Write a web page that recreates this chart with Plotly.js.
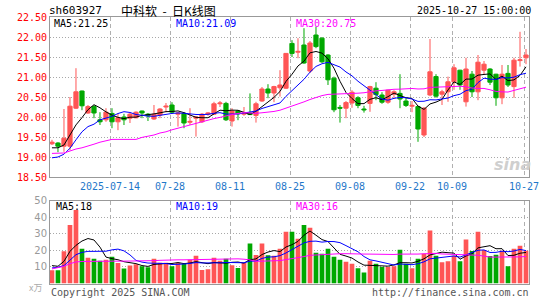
<!DOCTYPE html>
<html><head><meta charset="utf-8">
<script src="https://cdn.plot.ly/plotly-3.0.1.min.js"></script>
<style>html,body{margin:0;padding:0;background:#fff}#chart{width:545px;height:300px}</style>
</head><body><div id="chart"></div>
<script>
// ---- data ----
const dates = ['06-30','07-01','07-02','07-03','07-04','07-07','07-08','07-09','07-10','07-11',
'07-14','07-15','07-16','07-17','07-18','07-21','07-22','07-23','07-24','07-25',
'07-28','07-29','07-30','07-31','08-01','08-04','08-05','08-06','08-07','08-08',
'08-11','08-12','08-13','08-14','08-15','08-18','08-19','08-20','08-21','08-22',
'08-25','08-26','08-27','08-28','08-29','09-01','09-02','09-03','09-04','09-05',
'09-08','09-09','09-10','09-11','09-12','09-15','09-16','09-17','09-18','09-19',
'09-22','09-23','09-24','09-25','09-26','09-29','09-30',
'10-09','10-10','10-13','10-14','10-15','10-16','10-17','10-20','10-21','10-22','10-23','10-24','10-27'];
const openP = [19.33,19.35,19.27,19.27,20.22,20.65,20.10,20.26,19.93,19.93,
20.09,19.88,20.00,19.97,19.98,20.15,20.07,19.95,20.05,20.25,
20.30,20.07,20.09,19.87,19.97,19.88,20.07,20.07,20.33,20.34,
19.90,20.15,20.07,20.10,20.04,20.40,20.70,20.60,20.73,20.72,
21.84,21.62,21.80,21.15,22.05,21.97,21.55,20.97,20.24,20.22,
20.35,20.48,20.20,20.34,20.72,20.55,20.37,20.57,20.59,20.40,
20.27,20.26,19.55,20.55,21.01,20.57,20.63,20.88,21.17,20.38,
21.07,20.63,21.17,21.20,21.07,20.48,21.09,20.76,21.41,21.48];
const highP = [19.43,19.37,20.20,20.50,21.22,20.66,20.30,20.30,20.12,20.22,
20.22,20.09,20.08,20.12,20.14,20.16,20.10,20.30,20.22,20.35,
20.37,20.12,20.12,20.22,20.02,20.10,20.12,20.38,20.40,20.38,
20.22,20.17,20.25,20.59,20.38,20.75,20.82,20.78,21.17,21.60,
21.92,21.97,22.22,21.90,22.26,22.00,21.57,21.01,20.30,20.40,
20.67,20.52,20.28,20.78,20.87,20.62,20.68,20.67,21.07,20.48,
20.40,20.28,20.25,21.95,21.07,20.68,21.01,21.32,21.18,21.48,
21.15,21.55,21.40,21.22,21.08,21.30,21.30,21.48,22.13,21.70];
const lowP = [19.30,19.12,19.13,19.17,20.20,20.17,20.08,19.97,19.80,19.88,
19.72,19.67,19.80,19.85,19.97,19.97,19.90,19.93,19.97,20.12,
20.08,19.76,19.72,19.80,19.51,19.85,20.03,20.05,20.25,19.90,
19.76,19.92,20.03,20.05,19.86,20.38,20.47,20.37,20.51,20.70,
21.50,21.47,21.33,21.10,21.72,21.35,20.80,20.12,19.86,19.97,
20.23,20.22,20.11,20.13,20.42,20.33,20.33,20.47,20.22,20.25,
20.12,19.38,19.50,20.52,20.48,20.30,20.38,20.68,20.68,20.26,
20.50,20.42,21.05,20.80,20.28,20.32,20.75,20.48,21.26,21.32];
const closeP = [19.37,19.27,19.47,20.27,20.63,20.28,20.26,20.10,19.88,20.12,
19.88,19.98,19.93,20.07,20.12,20.10,20.03,20.07,20.20,20.27,
20.12,20.10,19.85,19.89,20.00,20.07,20.10,20.33,20.35,19.93,
20.15,20.08,20.10,20.06,20.33,20.70,20.60,20.76,20.80,21.59,
21.59,21.64,21.35,21.85,21.76,21.38,20.93,20.18,20.22,20.36,
20.62,20.29,20.18,20.76,20.56,20.37,20.67,20.63,20.45,20.29,
20.29,19.70,20.22,21.13,20.52,20.63,20.88,21.23,20.80,21.20,
20.63,21.37,21.32,20.87,20.48,21.07,20.80,21.42,21.43,21.55];
const volume = [8.0,8.0,19.4,35.4,44.4,21.0,15.6,15.0,13.8,14.4,
16.2,12.4,9.0,10.8,11.6,10.4,9.8,15.0,12.6,12.6,
10.4,12.6,11.8,14.4,16.8,8.2,8.6,15.6,13.8,15.0,
11.0,9.4,12.4,24.2,17.2,24.2,17.0,16.8,21.0,31.2,
31.2,27.0,35.4,33.6,18.6,18.0,21.0,16.2,14.4,13.2,
12.0,9.2,6.6,13.8,12.0,10.0,10.0,10.4,20.4,12.0,
9.2,15.0,18.0,32.0,16.8,12.8,13.4,16.8,13.4,26.6,
19.6,31.2,20.2,16.6,17.4,19.8,10.4,21.0,22.8,19.8];
// moving-average values visible before enough history exists in this window
const ma5Head = [19.23,19.23,19.30,19.55];
const ma10Head = [18.98,19.00,19.07,19.22,19.43,19.63,19.76,19.82,19.93];
const ma30Head = [19.09,19.09,19.10,19.15,19.20,19.23,19.27,19.32,19.37,19.41,19.44,19.44,19.44,19.44,19.44,
19.49,19.52,19.55,19.60,19.63,19.68,19.72,19.76,19.80,19.84,19.88,19.93,19.96,19.99];
const volMa5Head = [10.8,10.4,13.4,19.4];
const volMa10Head = [9.4,9.8,10.8,14.4,17.4,18.8,19.4,19.4,19.4];
const volMa30Head = [8.8,9.4,10.4,12.0,13.0,13.3,13.4,13.4,13.4,13.4,13.4,13.5,13.5,13.5,13.5,
13.6,13.6,13.8,14.0,14.2,14.2,14.3,14.3,14.4,14.4,14.5,14.5,14.6,14.6];
const tickDates = ['07-14','07-28','08-11','08-25','09-08','09-22','10-09','10-27'];
const tickLabels = ['2025-07-14','07-28','08-11','08-25','09-08','09-22','10-09','10-27'];
const priceTicks = [18.5,19.0,19.5,20.0,20.5,21.0,21.5,22.0,22.5];
const volTicks = [10,20,30,40,50];
const stockCode = 'sh603927';
const chartTitle = '中科软\u00a0\u00a0-\u00a0\u00a0日K线图';
const stamp = '2025-10-27 15:00:00';

// ---- build ----
function movingAvg(vals, n, head){
  return vals.map((v,i)=> i < n-1 ? head[i] : vals.slice(i-n+1,i+1).reduce((a,b)=>a+b,0)/n);
}
const xs = dates.map((d,i)=>i);
const ma5 = movingAvg(closeP,5,ma5Head), ma10 = movingAvg(closeP,10,ma10Head), ma30 = movingAvg(closeP,30,ma30Head);
const vma5 = movingAvg(volume,5,volMa5Head), vma10 = movingAvg(volume,10,volMa10Head), vma30 = movingAvg(volume,30,volMa30Head);
const RED='#ff5555', GREEN='#00a800';
const volColors = closeP.map((c,i)=> c>=openP[i] ? RED : GREEN);
const tickVals = tickDates.map(d=>dates.indexOf(d)-0.33);

const W=545,H=300;
const fx=p=>p/W, fy=p=>1-p/H;
const MONO='DejaVu Sans Mono';

function lineTrace(y,color,xa,ya){return {type:'scatter',mode:'lines',x:xs,y:y,xaxis:xa,yaxis:ya,
  line:{color:color,width:1},hoverinfo:'skip'};}

const traces = [
  {type:'candlestick',x:xs,open:openP,high:highP,low:lowP,close:closeP,xaxis:'x',yaxis:'y',
   increasing:{line:{color:RED,width:1},fillcolor:RED},
   decreasing:{line:{color:GREEN,width:1},fillcolor:GREEN},
   whiskerwidth:0,hoverinfo:'skip'},
  lineTrace(ma5,'#000000','x','y'),
  lineTrace(ma10,'#0000ff','x','y'),
  lineTrace(ma30,'#ff00ff','x','y'),
  {type:'bar',x:xs,y:volume,xaxis:'x2',yaxis:'y2',marker:{color:volColors,line:{width:0}},hoverinfo:'skip'},
  lineTrace(vma5,'#000000','x2','y2'),
  lineTrace(vma10,'#0000ff','x2','y2'),
  lineTrace(vma30,'#ff00ff','x2','y2')
];

function ann(text,px,py,anchor,font){
  return {text:text,x:fx(px),y:fy(py),xref:'paper',yref:'paper',xanchor:anchor,yanchor:'middle',
    showarrow:false,font:font,bgcolor:'rgba(0,0,0,0)',borderpad:0};
}
const last=closeP.length-1;
const annotations=[
  ann(stockCode,48,11,'left',{family:MONO,size:11,color:'#000'}),
  ann(chartTitle,120,11,'left',{family:'Noto Sans CJK SC',size:12,color:'#000'}),
  ann(stamp,532,11,'right',{family:MONO,size:10,color:'#000'}),
  ann('MA5:'+ma5[last].toFixed(2),53,23,'left',{family:MONO,size:10,color:'#000'}),
  ann('MA10:'+ma10[last].toFixed(2),175,23,'left',{family:MONO,size:10,color:'#0000ff'}),
  ann('MA30:'+ma30[last].toFixed(2),295,23,'left',{family:MONO,size:10,color:'#ff00ff'}),
  ann('MA5:'+Math.floor(vma5[last]),55,206,'left',{family:MONO,size:10,color:'#000'}),
  ann('MA10:'+Math.floor(vma10[last]),175,206,'left',{family:MONO,size:10,color:'#0000ff'}),
  ann('MA30:'+Math.floor(vma30[last]),295,206,'left',{family:MONO,size:10,color:'#ff00ff'}),
  ann('x万',28,287,'left',{family:'Noto Sans CJK SC',size:9,color:'#aaa'}),
  ann('Copyright 2025 SINA.COM',50,292,'left',{family:MONO,size:10,color:'#555'}),
  ann('http://finance.sina.com.cn',530,292,'right',{family:MONO,size:10,color:'#555'}),
  ann('<b><i>sina</i></b>',512,164,'center',{family:'DejaVu Sans',size:16,color:'#cfcfcf'})
];

const gridX = {showgrid:true,gridcolor:'#b0b0b0',griddash:'4px,3px',gridwidth:1};
const gridY = {showgrid:true,gridcolor:'#a8a8a8',griddash:'1px,2px',gridwidth:1};
const frame = {showline:true,mirror:true,linecolor:'#999',linewidth:1,zeroline:false,ticks:'',fixedrange:true};

const layout={
  width:W,height:H,margin:{l:0,r:0,t:0,b:0},paper_bgcolor:'#fff',plot_bgcolor:'#fff',
  showlegend:false,boxgap:0.3,boxgroupgap:0,bargap:0.22,hovermode:false,
  xaxis:Object.assign({domain:[fx(50),fx(529)],range:[-0.33,79.5],anchor:'y',tickmode:'array',
    tickvals:tickVals,ticktext:tickLabels,tickfont:{family:MONO,size:10,color:'#1f77c9'},
    rangeslider:{visible:false}},gridX,frame),
  yaxis:Object.assign({domain:[fy(177),fy(17)],range:[18.5,22.5],anchor:'x',tickmode:'array',
    tickvals:priceTicks,ticktext:priceTicks.map(v=>v.toFixed(2)),
    tickfont:{family:MONO,size:10,color:'#ff0000'}},gridY,frame),
  xaxis2:Object.assign({domain:[fx(50),fx(529)],range:[-0.33,79.5],anchor:'y2',tickmode:'array',
    tickvals:tickVals,showticklabels:false},gridX,frame),
  yaxis2:Object.assign({domain:[fy(283.5),fy(200.7)],range:[0,50],anchor:'x2',tickmode:'array',
    tickvals:volTicks,tickfont:{family:'DejaVu Sans',size:10,color:'#999'}},gridY,frame),
  annotations:annotations
};
Plotly.newPlot('chart',traces,layout,{staticPlot:true,displayModeBar:false});
</script></body></html>
